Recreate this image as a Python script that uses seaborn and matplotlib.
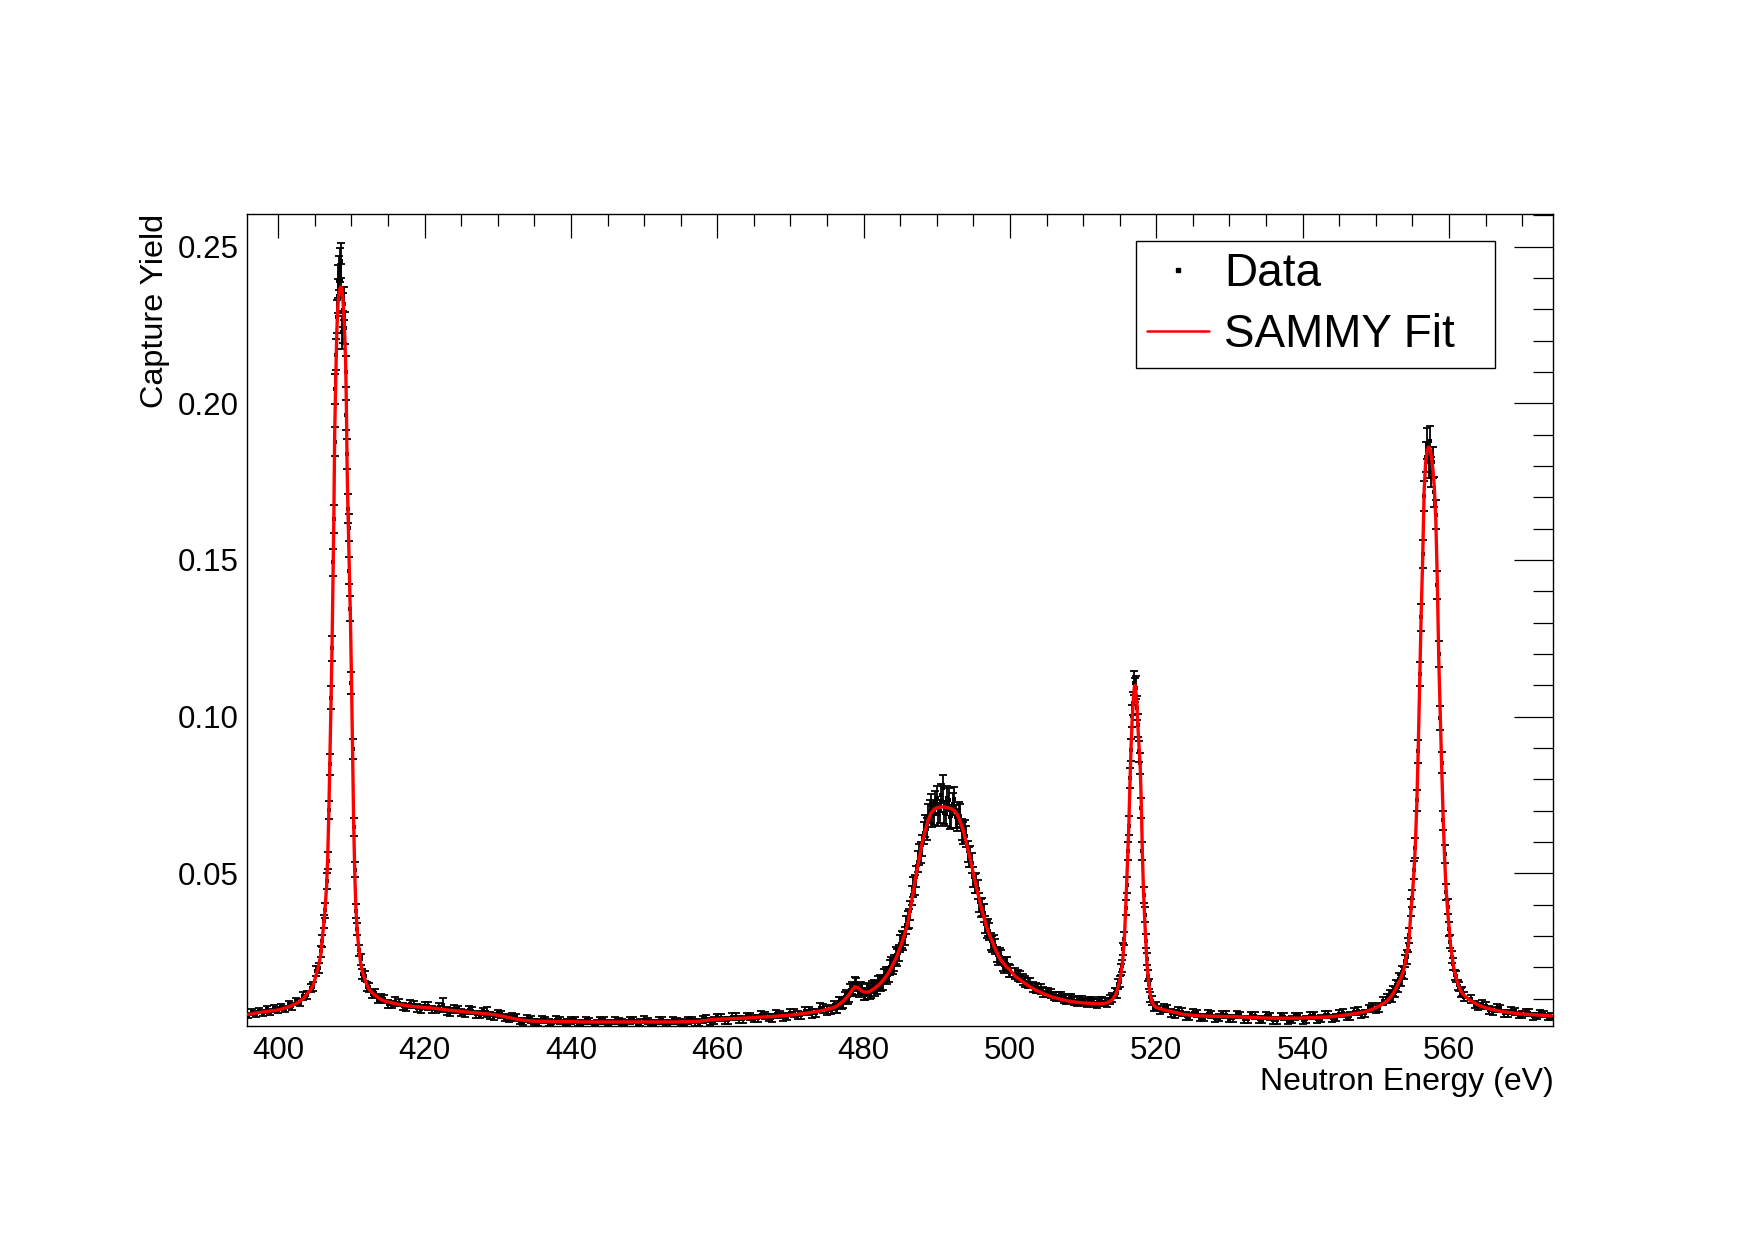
import numpy as np
import pandas as pd
import matplotlib
matplotlib.use("Agg")
import matplotlib.pyplot as plt
from matplotlib.ticker import MultipleLocator, FormatStrFormatter
from matplotlib.lines import Line2D
import seaborn as sns

# ---------------- data ----------------
ENERGY = [
    # low baseline
    395.9, 396.4, 396.9, 397.4, 397.9, 398.4, 398.9, 399.4, 399.9, 400.4, 400.9, 401.4, 401.9, 402.4, 402.9, 403.4, 403.9,
    # resonance ~408.6 eV
    404.4, 404.8, 405.2, 405.5, 405.8, 406.0, 406.2, 406.4, 406.6, 406.75, 406.9, 407.05, 407.2, 407.35, 407.5, 407.6,
    407.7, 407.8, 407.9, 408.0, 408.1, 408.2, 408.3, 408.4, 408.5, 408.6, 408.7, 408.8, 408.9, 409.0, 409.1, 409.2,
    409.3, 409.4, 409.5, 409.6, 409.7, 409.85, 410.0, 410.15, 410.3, 410.45, 410.6, 410.8, 411.0, 411.25, 411.5, 411.8,
    412.1, 412.4, 412.8, 413.2, 413.6, 414.0,
    # long baseline
    414.5, 415.5, 416.5, 417.5, 418.5, 419.5, 420.5, 421.5, 422.5, 423.5, 424.5, 425.5, 426.5, 427.5, 428.5, 429.5,
    430.5, 431.5, 432.5, 433.5, 434.5, 435.5, 436.5, 437.5, 438.5, 439.5, 440.5, 441.5, 442.5, 443.5, 444.5, 445.5,
    446.5, 447.5, 448.5, 449.5, 450.5, 451.5, 452.5, 453.5, 454.5, 455.5, 456.5, 457.5, 458.5, 459.5, 460.5, 461.5,
    462.5, 463.5, 464.5, 465.5, 466.5, 467.5, 468.5, 469.5, 470.5, 471.5, 472.5, 473.5, 474.5, 475.5,
    # small bump ~479 eV and broad resonance ~491 eV
    476.0, 476.4, 476.8, 477.2, 477.6, 478.0, 478.4, 478.8, 479.2, 479.6, 480.0, 480.4, 480.8, 481.2, 481.6,
    482.0, 482.4, 482.8, 483.2, 483.6, 484.0, 484.4, 484.8, 485.2, 485.6, 486.0, 486.4, 486.8, 487.2, 487.6,
    488.0, 488.4, 488.8, 489.2, 489.6, 490.0, 490.4, 490.8, 491.2, 491.6, 492.0, 492.4, 492.8, 493.2, 493.6,
    494.0, 494.4, 494.8, 495.2, 495.6, 496.0, 496.4, 496.8, 497.2, 497.6, 498.0, 498.4, 498.8, 499.2, 499.6, 500.0,
    # tail
    500.7, 501.4, 502.1, 502.8, 503.5, 504.2, 504.9, 505.6, 506.3, 507.0, 507.7, 508.4, 509.1, 509.8, 510.5,
    511.2, 511.9, 512.6, 513.3, 514.0,
    # resonance ~517 eV
    514.4, 514.6, 514.8, 515.0, 515.2, 515.35, 515.5, 515.65, 515.8, 515.95, 516.1, 516.25, 516.4, 516.55, 516.7,
    516.85, 517.0, 517.1, 517.2, 517.35, 517.5, 517.65, 517.8, 517.95, 518.1, 518.25, 518.4, 518.55, 518.7, 518.85,
    519.0, 519.2, 519.4, 519.7, 520.0,
    # baseline
    520.5, 521.5, 522.5, 523.5, 524.5, 525.5, 526.5, 527.5, 528.5, 529.5, 530.5, 531.5, 532.5, 533.5, 534.5, 535.5,
    536.5, 537.5, 538.5, 539.5, 540.5, 541.5, 542.5, 543.5, 544.5, 545.5, 546.5, 547.5, 548.5, 549.5, 550.5, 551.5,
    # resonance ~557 eV
    552.0, 552.2, 552.4, 552.6, 552.8, 553.0, 553.2, 553.4, 553.6, 553.8, 554.0, 554.2, 554.4, 554.6, 554.8, 555.0,
    555.2, 555.4, 555.6, 555.8, 556.0, 556.2, 556.4, 556.6, 556.8, 557.0, 557.2, 557.4, 557.6, 557.8, 558.0, 558.2,
    558.4, 558.6, 558.8, 559.0, 559.2, 559.4, 559.6, 559.8, 560.0, 560.2, 560.4, 560.6, 560.8, 561.0, 561.2, 561.4,
    561.6, 561.8, 562.0,
    # high baseline
    563.0, 564.0, 565.0, 566.0, 567.0, 568.0, 569.0, 570.0, 571.0, 572.0, 573.0, 574.0,
]

FIT_YIELD = [
    0.0050, 0.0052, 0.0054, 0.0056, 0.0058, 0.0059, 0.0061, 0.0062, 0.0064, 0.0067, 0.0070, 0.0074, 0.0079, 0.0084, 0.0091, 0.0100, 0.0115,
    0.0128, 0.0145, 0.0180, 0.0205, 0.0240, 0.0290, 0.0335, 0.0390, 0.0460, 0.0550, 0.0690, 0.0860, 0.1040, 0.1235, 0.1470, 0.1650,
    0.1900, 0.2020, 0.2130, 0.2230, 0.2290, 0.2330, 0.2350, 0.2365, 0.2370, 0.2370, 0.2360, 0.2340, 0.2305, 0.2260, 0.2200, 0.2130,
    0.2000, 0.1800, 0.1680, 0.1580, 0.1490, 0.1320, 0.1120, 0.0880, 0.0660, 0.0500, 0.0390, 0.0310, 0.0262, 0.0215, 0.0185, 0.0165,
    0.0145, 0.0130, 0.0120, 0.0112, 0.0104, 0.0098,
    0.0093, 0.0087, 0.0082, 0.0078, 0.0075, 0.0073, 0.0071, 0.0069, 0.0066, 0.0063, 0.0061, 0.0058, 0.0056, 0.0054, 0.0052, 0.0049,
    0.0045, 0.0040, 0.0035, 0.0031, 0.0029, 0.0028, 0.0028, 0.0027, 0.0027, 0.0027, 0.0027, 0.0026, 0.0026, 0.0026, 0.0026, 0.0026,
    0.0026, 0.0026, 0.0026, 0.0026, 0.0026, 0.0026, 0.0026, 0.0026, 0.0026, 0.0027, 0.0027, 0.0028, 0.0031, 0.0034, 0.0035, 0.0036,
    0.0037, 0.0038, 0.0039, 0.0041, 0.0042, 0.0043, 0.0045, 0.0047, 0.0049, 0.0052, 0.0055, 0.0059, 0.0063, 0.0069,
    0.0072, 0.0078, 0.0085, 0.0092, 0.0102, 0.0113, 0.0127, 0.0138, 0.0136, 0.0127, 0.0122, 0.0121, 0.0123, 0.0129, 0.0135,
    0.0143, 0.0152, 0.0163, 0.0176, 0.0191, 0.0210, 0.0228, 0.0252, 0.0278, 0.0306, 0.0338, 0.0390, 0.0445, 0.0498, 0.0548,
    0.0598, 0.0635, 0.0668, 0.0692, 0.0703, 0.0709, 0.0711, 0.0712, 0.0711, 0.0709, 0.0706, 0.0700, 0.0688, 0.0665, 0.0638,
    0.0600, 0.0563, 0.0520, 0.0478, 0.0437, 0.0398, 0.0362, 0.0330, 0.0303, 0.0281, 0.0258, 0.0238, 0.0222, 0.0210, 0.0200, 0.0192,
    0.0172, 0.0160, 0.0148, 0.0137, 0.0128, 0.0120, 0.0113, 0.0107, 0.0102, 0.0098, 0.0094, 0.0091, 0.0089, 0.0087, 0.0086,
    0.0085, 0.0084, 0.0084, 0.0087, 0.0097,
    0.0112, 0.0122, 0.0140, 0.0160, 0.0185, 0.0210, 0.0250, 0.0300, 0.0380, 0.0470, 0.0560, 0.0660, 0.0790, 0.0905, 0.0990,
    0.1050, 0.1095, 0.1100, 0.1080, 0.1040, 0.0960, 0.0900, 0.0840, 0.0720, 0.0560, 0.0440, 0.0360, 0.0290, 0.0220, 0.0180,
    0.0140, 0.0110, 0.0090, 0.0078, 0.0072,
    0.0068, 0.0062, 0.0057, 0.0051, 0.0048, 0.0046, 0.0045, 0.0044, 0.0044, 0.0043, 0.0043, 0.0042, 0.0041, 0.0040, 0.0039, 0.0038,
    0.0038, 0.0038, 0.0038, 0.0038, 0.0039, 0.0040, 0.0041, 0.0042, 0.0044, 0.0047, 0.0050, 0.0054, 0.0058, 0.0066, 0.0077, 0.0092,
    0.0105, 0.0112, 0.0118, 0.0126, 0.0135, 0.0146, 0.0156, 0.0165, 0.0178, 0.0190, 0.0212, 0.0240, 0.0262, 0.0310, 0.0380, 0.0430,
    0.0500, 0.0590, 0.0720, 0.0900, 0.1120, 0.1330, 0.1500, 0.1720, 0.1810, 0.1845, 0.1860, 0.1856, 0.1828, 0.1790, 0.1730, 0.1627,
    0.1437, 0.1184, 0.1010, 0.0840, 0.0680, 0.0550, 0.0450, 0.0385, 0.0330, 0.0275, 0.0240, 0.0205, 0.0182, 0.0165, 0.0150, 0.0135,
    0.0125, 0.0118, 0.0112,
    0.0093, 0.0080, 0.0071, 0.0065, 0.0060, 0.0057, 0.0054, 0.0051, 0.0050, 0.0048, 0.0047, 0.0045,
]

DATA_YIELD = [
    0.0047, 0.0058, 0.0051, 0.0062, 0.0055, 0.0066, 0.0058, 0.0069, 0.0063, 0.0073, 0.0068, 0.0083, 0.0076, 0.0092, 0.0088, 0.0109, 0.0112,
    0.0135, 0.0139, 0.0188, 0.0199, 0.0251, 0.0283, 0.0347, 0.0382, 0.0475, 0.0541, 0.0702, 0.0848, 0.1061, 0.1218, 0.1492, 0.1631,
    0.1878, 0.2046, 0.2155, 0.2276, 0.2389, 0.2342, 0.2417, 0.2442, 0.2391, 0.2455, 0.2226, 0.2298, 0.2243, 0.2318, 0.2240, 0.2101,
    0.1963, 0.1838, 0.1664, 0.1603, 0.1466, 0.1345, 0.1108, 0.0897, 0.0648, 0.0512, 0.0379, 0.0322, 0.0255, 0.0226, 0.0179, 0.0172,
    0.0139, 0.0136, 0.0114, 0.0118, 0.0097, 0.0103,
    0.0099, 0.0081, 0.0088, 0.0072, 0.0081, 0.0068, 0.0077, 0.0064, 0.0079, 0.0058, 0.0067, 0.0053, 0.0062, 0.0049, 0.0058, 0.0044,
    0.0051, 0.0036, 0.0041, 0.0026, 0.0034, 0.0023, 0.0033, 0.0022, 0.0031, 0.0023, 0.0032, 0.0021, 0.0030, 0.0020, 0.0031, 0.0022,
    0.0029, 0.0021, 0.0032, 0.0023, 0.0030, 0.0020, 0.0031, 0.0022, 0.0030, 0.0023, 0.0032, 0.0024, 0.0036, 0.0030, 0.0040, 0.0032,
    0.0042, 0.0034, 0.0044, 0.0037, 0.0047, 0.0039, 0.0050, 0.0043, 0.0055, 0.0047, 0.0061, 0.0054, 0.0070, 0.0065,
    0.0079, 0.0071, 0.0091, 0.0087, 0.0110, 0.0108, 0.0135, 0.0149, 0.0131, 0.0134, 0.0114, 0.0129, 0.0117, 0.0137, 0.0130,
    0.0152, 0.0147, 0.0172, 0.0169, 0.0201, 0.0204, 0.0238, 0.0246, 0.0289, 0.0299, 0.0351, 0.0381, 0.0458, 0.0489, 0.0561,
    0.0589, 0.0651, 0.0684, 0.0718, 0.0691, 0.0742, 0.0698, 0.0772, 0.0688, 0.0735, 0.0682, 0.0738, 0.0671, 0.0684, 0.0629,
    0.0618, 0.0552, 0.0534, 0.0468, 0.0449, 0.0389, 0.0374, 0.0322, 0.0315, 0.0274, 0.0268, 0.0231, 0.0233, 0.0204, 0.0211, 0.0189,
    0.0180, 0.0171, 0.0154, 0.0149, 0.0133, 0.0131, 0.0119, 0.0116, 0.0106, 0.0109, 0.0097, 0.0101, 0.0092, 0.0096, 0.0087,
    0.0093, 0.0085, 0.0091, 0.0088, 0.0103,
    0.0118, 0.0117, 0.0148, 0.0155, 0.0193, 0.0204, 0.0259, 0.0292, 0.0391, 0.0462, 0.0571, 0.0652, 0.0803, 0.0894, 0.1002,
    0.1041, 0.1108, 0.1084, 0.1093, 0.1028, 0.0972, 0.0889, 0.0851, 0.0709, 0.0572, 0.0431, 0.0368, 0.0283, 0.0227, 0.0174,
    0.0146, 0.0106, 0.0094, 0.0075, 0.0076,
    0.0063, 0.0069, 0.0052, 0.0058, 0.0043, 0.0054, 0.0040, 0.0050, 0.0039, 0.0049, 0.0037, 0.0048, 0.0035, 0.0046, 0.0033, 0.0044,
    0.0032, 0.0043, 0.0033, 0.0045, 0.0034, 0.0047, 0.0036, 0.0049, 0.0039, 0.0054, 0.0045, 0.0061, 0.0053, 0.0073, 0.0072, 0.0101,
    0.0112, 0.0106, 0.0125, 0.0121, 0.0143, 0.0139, 0.0164, 0.0158, 0.0186, 0.0183, 0.0221, 0.0233, 0.0271, 0.0302, 0.0391, 0.0421,
    0.0512, 0.0581, 0.0733, 0.0889, 0.1136, 0.1317, 0.1518, 0.1704, 0.1829, 0.1871, 0.1812, 0.1879, 0.1781, 0.1812, 0.1716, 0.1645,
    0.1421, 0.1201, 0.0996, 0.0853, 0.0669, 0.0561, 0.0441, 0.0394, 0.0322, 0.0282, 0.0233, 0.0211, 0.0176, 0.0171, 0.0144, 0.0140,
    0.0119, 0.0124, 0.0107,
    0.0099, 0.0076, 0.0078, 0.0061, 0.0069, 0.0053, 0.0060, 0.0049, 0.0056, 0.0045, 0.0052, 0.0043,
]

DATA_ERR = [
    0.0009, 0.0009, 0.0009, 0.0009, 0.0009, 0.0010, 0.0010, 0.0010, 0.0010, 0.0010, 0.0010, 0.0011, 0.0011, 0.0011, 0.0012, 0.0012, 0.0013,
    0.0013, 0.0014, 0.0015, 0.0016, 0.0018, 0.0019, 0.0021, 0.0023, 0.0025, 0.0027, 0.0030, 0.0033, 0.0036, 0.0039, 0.0042, 0.0044,
    0.0047, 0.0049, 0.0050, 0.0052, 0.0053, 0.0053, 0.0054, 0.0054, 0.0054, 0.0055, 0.0052, 0.0053, 0.0052, 0.0053, 0.0052, 0.0050,
    0.0048, 0.0047, 0.0045, 0.0044, 0.0042, 0.0040, 0.0036, 0.0033, 0.0028, 0.0025, 0.0022, 0.0020, 0.0018, 0.0017, 0.0016, 0.0015,
    0.0014, 0.0013, 0.0013, 0.0012, 0.0012, 0.0012,
    0.0013, 0.0012, 0.0012, 0.0012, 0.0012, 0.0012, 0.0012, 0.0011, 0.0022, 0.0012, 0.0011, 0.0012, 0.0011, 0.0011, 0.0016, 0.0011,
    0.0011, 0.0011, 0.0011, 0.0011, 0.0010, 0.0011, 0.0010, 0.0011, 0.0010, 0.0011, 0.0010, 0.0011, 0.0010, 0.0011, 0.0010, 0.0011,
    0.0010, 0.0011, 0.0010, 0.0011, 0.0010, 0.0011, 0.0010, 0.0011, 0.0010, 0.0011, 0.0010, 0.0011, 0.0011, 0.0011, 0.0011, 0.0011,
    0.0011, 0.0011, 0.0011, 0.0011, 0.0011, 0.0012, 0.0012, 0.0012, 0.0012, 0.0012, 0.0013, 0.0013, 0.0014, 0.0014,
    0.0015, 0.0015, 0.0016, 0.0016, 0.0017, 0.0018, 0.0019, 0.0020, 0.0020, 0.0019, 0.0019, 0.0019, 0.0019, 0.0020, 0.0020,
    0.0021, 0.0021, 0.0022, 0.0023, 0.0024, 0.0025, 0.0026, 0.0027, 0.0028, 0.0029, 0.0030, 0.0031, 0.0032, 0.0033, 0.0034,
    0.0035, 0.0035, 0.0036, 0.0036, 0.0037, 0.0037, 0.0036, 0.0042, 0.0036, 0.0037, 0.0036, 0.0037, 0.0036, 0.0036, 0.0035,
    0.0034, 0.0033, 0.0032, 0.0031, 0.0030, 0.0029, 0.0028, 0.0027, 0.0026, 0.0025, 0.0024, 0.0023, 0.0022, 0.0021, 0.0021, 0.0020,
    0.0018, 0.0017, 0.0017, 0.0016, 0.0016, 0.0015, 0.0015, 0.0015, 0.0014, 0.0014, 0.0014, 0.0014, 0.0014, 0.0013, 0.0013,
    0.0013, 0.0013, 0.0013, 0.0013, 0.0014,
    0.0015, 0.0015, 0.0016, 0.0017, 0.0018, 0.0019, 0.0020, 0.0022, 0.0024, 0.0026, 0.0028, 0.0030, 0.0032, 0.0034, 0.0036,
    0.0037, 0.0038, 0.0038, 0.0038, 0.0037, 0.0036, 0.0035, 0.0034, 0.0032, 0.0029, 0.0026, 0.0024, 0.0022, 0.0020, 0.0018,
    0.0016, 0.0015, 0.0014, 0.0013, 0.0013,
    0.0013, 0.0012, 0.0012, 0.0012, 0.0011, 0.0011, 0.0011, 0.0011, 0.0011, 0.0011, 0.0011, 0.0011, 0.0011, 0.0011, 0.0011, 0.0011,
    0.0011, 0.0011, 0.0011, 0.0011, 0.0011, 0.0011, 0.0011, 0.0011, 0.0011, 0.0012, 0.0012, 0.0012, 0.0012, 0.0013, 0.0013, 0.0014,
    0.0015, 0.0015, 0.0016, 0.0016, 0.0017, 0.0017, 0.0018, 0.0018, 0.0019, 0.0019, 0.0020, 0.0021, 0.0022, 0.0024, 0.0026, 0.0027,
    0.0029, 0.0031, 0.0033, 0.0036, 0.0039, 0.0042, 0.0045, 0.0047, 0.0049, 0.0050, 0.0050, 0.0050, 0.0049, 0.0049, 0.0048, 0.0047,
    0.0044, 0.0041, 0.0037, 0.0034, 0.0031, 0.0028, 0.0026, 0.0024, 0.0022, 0.0021, 0.0019, 0.0018, 0.0017, 0.0016, 0.0016, 0.0015,
    0.0015, 0.0015, 0.0014,
    0.0013, 0.0012, 0.0012, 0.0012, 0.0011, 0.0011, 0.0011, 0.0011, 0.0011, 0.0010, 0.0010, 0.0010,
]

# additional measured bins lying between the bins listed above (data only)
EXTRA_ENERGY = [
    415.0, 416.0, 417.0, 418.0, 419.0, 420.0, 421.0, 422.0, 423.0, 424.0, 425.0, 426.0, 427.0, 428.0, 429.0, 430.0,
    431.0, 432.0, 433.0, 434.0, 435.0, 436.0, 437.0, 438.0, 439.0, 440.0, 441.0, 442.0, 443.0, 444.0, 445.0, 446.0,
    447.0, 448.0, 449.0, 450.0, 451.0, 452.0, 453.0, 454.0, 455.0, 456.0, 457.0, 458.0, 459.0, 460.0, 461.0, 462.0,
    463.0, 464.0, 465.0, 466.0, 467.0, 468.0, 469.0, 470.0, 471.0, 472.0, 473.0, 474.0, 475.0,
    476.2, 476.6, 477.0, 477.4, 477.8, 478.2, 478.6, 479.0, 479.4, 479.8, 480.2, 480.6, 481.0, 481.4, 481.8,
    482.2, 482.6, 483.0, 483.4, 483.8, 484.2, 484.6, 485.0, 485.4, 485.8, 486.2, 486.6, 487.0, 487.4, 487.8,
    488.2, 488.6, 489.0, 489.4, 489.8, 490.2, 490.6, 491.0, 491.4, 491.8, 492.2, 492.6, 493.0, 493.4, 493.8,
    494.2, 494.6, 495.0, 495.4, 495.8, 496.2, 496.6, 497.0, 497.4, 497.8, 498.2, 498.6, 499.0, 499.4, 499.8,
    501.05, 501.75, 502.45, 503.15, 503.85, 504.55, 505.25, 505.95, 506.65, 507.35, 508.05, 508.75, 509.45, 510.15,
    510.85, 511.55, 512.25, 512.95, 513.65,
    521.0, 522.0, 523.0, 524.0, 525.0, 526.0, 527.0, 528.0, 529.0, 530.0, 531.0, 532.0, 533.0, 534.0, 535.0, 536.0,
    537.0, 538.0, 539.0, 540.0, 541.0, 542.0, 543.0, 544.0, 545.0, 546.0, 547.0, 548.0, 549.0, 550.0, 551.0,
    563.5, 564.5, 565.5, 566.5, 567.5, 568.5, 569.5, 570.5, 571.5, 572.5, 573.5,
]

EXTRA_YIELD = [
    0.0084, 0.0091, 0.0076, 0.0083, 0.0070, 0.0078, 0.0066, 0.0074, 0.0061, 0.0068, 0.0056, 0.0064, 0.0051, 0.0060, 0.0047, 0.0053,
    0.0039, 0.0044, 0.0029, 0.0036, 0.0025, 0.0034, 0.0024, 0.0033, 0.0021, 0.0032, 0.0023, 0.0031, 0.0019, 0.0032, 0.0022, 0.0030,
    0.0024, 0.0031, 0.0021, 0.0033, 0.0022, 0.0030, 0.0023, 0.0031, 0.0022, 0.0032, 0.0025, 0.0035, 0.0028, 0.0041, 0.0031, 0.0043,
    0.0034, 0.0045, 0.0036, 0.0049, 0.0040, 0.0051, 0.0042, 0.0056, 0.0047, 0.0062, 0.0053, 0.0071, 0.0062,
    0.0069, 0.0088, 0.0083, 0.0104, 0.0101, 0.0128, 0.0127, 0.0146, 0.0125, 0.0131, 0.0115, 0.0130, 0.0121, 0.0140, 0.0134,
    0.0156, 0.0151, 0.0178, 0.0177, 0.0208, 0.0213, 0.0232, 0.0276, 0.0284, 0.0335, 0.0355, 0.0430, 0.0462, 0.0537, 0.0566,
    0.0629, 0.0642, 0.0697, 0.0683, 0.0727, 0.0689, 0.0749, 0.0694, 0.0741, 0.0679, 0.0721, 0.0681, 0.0693, 0.0640, 0.0634,
    0.0570, 0.0553, 0.0487, 0.0469, 0.0408, 0.0392, 0.0337, 0.0328, 0.0283, 0.0279, 0.0241, 0.0238, 0.0209, 0.0213, 0.0190,
    0.0175, 0.0161, 0.0151, 0.0139, 0.0133, 0.0122, 0.0120, 0.0109, 0.0108, 0.0101, 0.0100, 0.0094, 0.0097, 0.0090,
    0.0093, 0.0087, 0.0092, 0.0089, 0.0098,
    0.0071, 0.0055, 0.0061, 0.0045, 0.0055, 0.0040, 0.0052, 0.0038, 0.0051, 0.0036, 0.0050, 0.0035, 0.0048, 0.0034, 0.0046, 0.0031,
    0.0045, 0.0030, 0.0044, 0.0031, 0.0046, 0.0034, 0.0049, 0.0037, 0.0052, 0.0043, 0.0059, 0.0050, 0.0069, 0.0066, 0.0093,
    0.0081, 0.0083, 0.0064, 0.0070, 0.0054, 0.0062, 0.0048, 0.0057, 0.0044, 0.0053, 0.0041,
]

EXTRA_ERR = [
    0.0013, 0.0013, 0.0012, 0.0012, 0.0012, 0.0012, 0.0012, 0.0012, 0.0012, 0.0012, 0.0012, 0.0012, 0.0011, 0.0012, 0.0011, 0.0011,
    0.0011, 0.0011, 0.0011, 0.0011, 0.0010, 0.0011, 0.0010, 0.0011, 0.0010, 0.0011, 0.0010, 0.0011, 0.0010, 0.0011, 0.0010, 0.0011,
    0.0010, 0.0011, 0.0010, 0.0011, 0.0010, 0.0011, 0.0010, 0.0011, 0.0010, 0.0011, 0.0011, 0.0011, 0.0011, 0.0011, 0.0011, 0.0011,
    0.0011, 0.0011, 0.0011, 0.0012, 0.0012, 0.0012, 0.0012, 0.0012, 0.0013, 0.0013, 0.0013, 0.0014, 0.0014,
    0.0015, 0.0016, 0.0016, 0.0017, 0.0017, 0.0018, 0.0019, 0.0020, 0.0019, 0.0019, 0.0019, 0.0019, 0.0019, 0.0020, 0.0020,
    0.0021, 0.0022, 0.0022, 0.0023, 0.0024, 0.0025, 0.0026, 0.0027, 0.0028, 0.0029, 0.0030, 0.0031, 0.0032, 0.0033, 0.0034,
    0.0035, 0.0035, 0.0036, 0.0036, 0.0037, 0.0037, 0.0037, 0.0036, 0.0037, 0.0036, 0.0036, 0.0036, 0.0036, 0.0035, 0.0035,
    0.0034, 0.0033, 0.0032, 0.0031, 0.0030, 0.0029, 0.0028, 0.0027, 0.0026, 0.0025, 0.0024, 0.0023, 0.0022, 0.0021, 0.0021,
    0.0017, 0.0017, 0.0016, 0.0016, 0.0015, 0.0015, 0.0015, 0.0014, 0.0014, 0.0014, 0.0014, 0.0014, 0.0013, 0.0013,
    0.0013, 0.0013, 0.0013, 0.0013, 0.0014,
    0.0013, 0.0012, 0.0012, 0.0012, 0.0011, 0.0011, 0.0011, 0.0011, 0.0011, 0.0011, 0.0011, 0.0011, 0.0011, 0.0011, 0.0011, 0.0011,
    0.0011, 0.0011, 0.0011, 0.0011, 0.0011, 0.0011, 0.0011, 0.0011, 0.0011, 0.0012, 0.0012, 0.0012, 0.0012, 0.0013, 0.0013,
    0.0012, 0.0012, 0.0012, 0.0012, 0.0011, 0.0011, 0.0011, 0.0011, 0.0011, 0.0010, 0.0010,
]

X_LABEL = "Neutron Energy (eV)"
Y_LABEL = "Capture Yield"
LEGEND_LABELS = ["Data", "SAMMY Fit"]
X_RANGE = (395.68, 574.25)
Y_RANGE = (0.0014, 0.2603)
Y_TICKS = [0.05, 0.10, 0.15, 0.20, 0.25]

n = len(ENERGY)
if not (len(FIT_YIELD) == n and len(DATA_YIELD) == n and len(DATA_ERR) == n):
    raise SystemExit(f"length mismatch {n} {len(FIT_YIELD)} {len(DATA_YIELD)} {len(DATA_ERR)}")
m = len(EXTRA_ENERGY)
if not (len(EXTRA_YIELD) == m and len(EXTRA_ERR) == m):
    raise SystemExit(f"extra length mismatch {m} {len(EXTRA_YIELD)} {len(EXTRA_ERR)}")

fit_df = pd.DataFrame({"E": ENERGY, "fit": FIT_YIELD})
data_df = pd.concat([
    pd.DataFrame({"E": ENERGY, "y": DATA_YIELD, "err": DATA_ERR}),
    pd.DataFrame({"E": EXTRA_ENERGY, "y": EXTRA_YIELD, "err": EXTRA_ERR}),
], ignore_index=True).sort_values("E")

# ---------------- style ----------------
sns.set_style("white")
plt.rcParams["font.family"] = ["Liberation Sans", "DejaVu Sans"]
plt.rcParams["axes.edgecolor"] = "black"
plt.rcParams["xtick.color"] = "black"
plt.rcParams["ytick.color"] = "black"
plt.rcParams["text.color"] = "black"
plt.rcParams["axes.labelcolor"] = "black"

fig = plt.figure(figsize=(17.54, 12.41), dpi=100)
fig.patch.set_facecolor("white")
ax = fig.add_axes([0.14065, 0.17349, 0.7449, 0.65382])

ax.errorbar(data_df["E"], data_df["y"], yerr=data_df["err"], fmt="none", ecolor="black",
            elinewidth=1.3, capsize=3.2, capthick=1.3, zorder=2)
sns.scatterplot(data=data_df, x="E", y="y", marker="s", s=12, color="black",
                linewidth=0, ax=ax, zorder=3, legend=False)
sns.lineplot(data=fit_df, x="E", y="fit", color="red", linewidth=2.4,
             ax=ax, zorder=4, estimator=None, sort=True, legend=False)

ax.set_xlim(*X_RANGE)
ax.set_ylim(*Y_RANGE)
ax.xaxis.set_major_locator(MultipleLocator(20))
ax.xaxis.set_minor_locator(MultipleLocator(5))
ax.set_yticks(Y_TICKS)
ax.yaxis.set_minor_locator(MultipleLocator(0.01))
ax.yaxis.set_major_formatter(FormatStrFormatter("%.2f"))

for s in ax.spines.values():
    s.set_linewidth(1.0)
    s.set_color("black")
    s.set_visible(True)

ax.tick_params(axis="both", which="both", direction="in", top=True, right=True,
               width=0.9, labelsize=22.5, labelcolor="black")
ax.tick_params(axis="x", which="major", length=17.3, pad=7.5)
ax.tick_params(axis="x", which="minor", length=8.6)
ax.tick_params(axis="y", which="major", length=28, pad=6)
ax.tick_params(axis="y", which="minor", length=14.4)

ax.set_xlabel(X_LABEL, fontsize=23, loc="right")
ax.xaxis.set_label_coords(1.0, -0.051)
ax.xaxis.label.set_verticalalignment("top")
ax.set_ylabel(Y_LABEL, fontsize=23.3, loc="top")
ax.yaxis.set_label_coords(-0.0587, 1.0)

handles = [
    Line2D([], [], marker="s", markersize=2.5, color="black", linestyle="none"),
    Line2D([], [], color="red", linewidth=1.8),
]
leg = ax.legend(handles, LEGEND_LABELS, loc="upper left",
                bbox_to_anchor=(0.6806, 0.8097, 0.275, 0.1574), mode="expand",
                borderaxespad=0, fontsize=33, frameon=True, fancybox=False,
                handlelength=1.35, handletextpad=0.34, borderpad=0.24,
                labelspacing=0.38)
leg.get_frame().set_edgecolor("black")
leg.get_frame().set_linewidth(1.0)
leg.get_frame().set_facecolor("white")
leg.get_frame().set_alpha(1.0)
for t in leg.get_texts():
    t.set_color("black")

fig.savefig("out.png", dpi=100, facecolor="white")
